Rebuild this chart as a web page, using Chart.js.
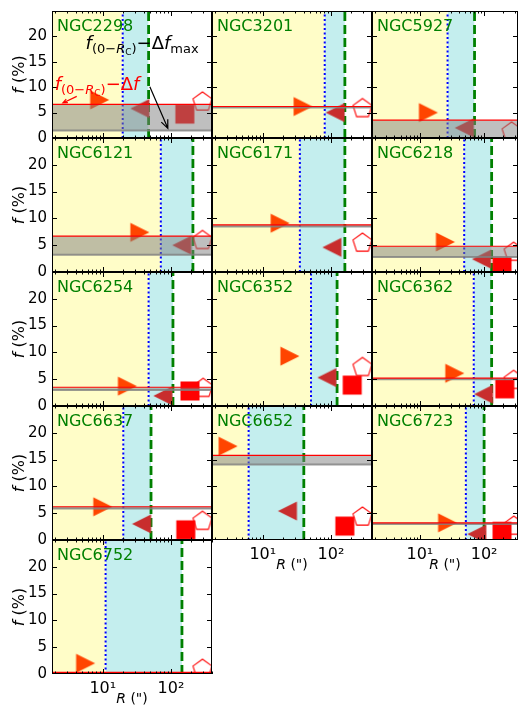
<!DOCTYPE html>
<html>
<head>
<meta charset="utf-8">
<script src="https://cdn.jsdelivr.net/npm/chart.js@4.4.1/dist/chart.umd.min.js"></script>
<style>
html, body { margin: 0; padding: 0; background: #fff; }
#wrap { position: relative; width: 529px; height: 708px; overflow: hidden; }
#wrap canvas { position: absolute; left: 0; top: 0; }
</style>
</head>
<body>
<div id="wrap"></div>
<script>
const galaxies = ['NGC2298', 'NGC3201', 'NGC5927', 'NGC6121', 'NGC6171', 'NGC6218', 'NGC6254',
                  'NGC6352', 'NGC6362', 'NGC6637', 'NGC6652', 'NGC6723', 'NGC6752'];
// end of yellow zone (blue dotted) and of cyan zone (green dashed), arcsec
const rInner = [19.6, 81, 27, 71, 35, 49, 47, 51, 69, 20, 6.2, 52, 11];
const rOuter = [47, 160, 71, 210, 160, 131, 107, 123, 131, 51, 40, 100, 145];
// f(0-Rc) - df (red line) and f(0-Rc) - df_max (grey line), %
const fRed  = [6.6, 6.2, 3.5, 6.7, 8.8, 4.8, 3.5, null, 5.2, 6.2, 15.8, 3.2, 0.3];
const fGrey = [1.5, 6.0, -1, 3.2, 8.5, 2.8, 3.0, null, 5.0, 5.9, 14.1, 3.0, 0.1];
// markers
const rightR = [9, 39, 13.6, 35, 18, 25, 23, 25, 35, 10, 3.1, 27, 5.6];
const rightF = [7.5, 6.2, 5.0, 7.4, 9.1, 5.6, 3.7, 9.3, 6.1, 6.2, 17.5, 3.2, 2.0];
const leftR = [35, 115, 49, 144, 103, 91, 76, 87, 98, 37, 23, 77, null];
const leftF = [5.8, 5.0, 2.0, 5.0, 4.6, 2.4, 1.9, 5.3, 2.2, 3.0, 5.4, 1.1, null];
const squareR = [160, null, null, null, null, 190, 190, 205, 210, 165, 160, 190, null];
const squareF = [4.7, null, null, null, null, 1.0, 2.8, 3.9, 3.2, 1.9, 2.6, 1.6, null];
const pentR = [290, 290, 268, 290, 290, 288, 297, 290, 288, 290, 290, 290, 290];
const pentF = [7.1, 5.8, 1.2, 5.9, 5.4, 3.7, 3.3, 7.2, 4.8, 3.5, 4.3, 2.6, 0.9];

const yTicks = [0, 5, 10, 15, 20];
const xTickLabels = {10: '10\u00b9', 100: '10\u00b2'};

// grid of panels
const colLeft = [52, 212, 372], colWidth = [160, 160, 155];
const rowTop = [4, 138, 272, 406, 540], rowHeight = 134;
const xMin = 1.8, xMax = [400, 400, 337], yMax = 25;

Chart.defaults.font.family = '"DejaVu Sans"';

function marker(draw) {
    const c = document.createElement('canvas');
    c.width = c.height = 26;
    const g = c.getContext('2d');
    g.translate(13, 13);
    draw(g);
    return c;
}
const triRight = marker(g => {
    g.fillStyle = '#ff4500';
    g.beginPath(); g.moveTo(-9.5, -9.5); g.lineTo(9.5, 0); g.lineTo(-9.5, 9.5); g.closePath(); g.fill();
});
const triLeft = marker(g => {
    g.fillStyle = '#c82d2d';
    g.beginPath(); g.moveTo(9.5, -9.5); g.lineTo(-9.5, 0); g.lineTo(9.5, 9.5); g.closePath(); g.fill();
});
const square = marker(g => {
    g.fillStyle = '#ff0000';
    g.fillRect(-9.5, -9.5, 19, 19);
});
const pentagon = marker(g => {
    g.strokeStyle = '#ff0000'; g.lineWidth = 1.1;
    g.beginPath();
    for (let k = 0; k < 5; k++) {
        const a = -Math.PI / 2 + k * 2 * Math.PI / 5;
        k ? g.lineTo(10 * Math.cos(a), 10 * Math.sin(a)) : g.moveTo(10 * Math.cos(a), 10 * Math.sin(a));
    }
    g.closePath(); g.stroke();
});

function fontOf(p) { return (p.it ? 'italic ' : '') + p.s + 'px "DejaVu Sans"'; }
function drawRuns(ctx, parts, x, y, center) {
    let w = 0;
    parts.forEach(p => { ctx.font = fontOf(p); w += ctx.measureText(p.t).width; });
    let cx = center ? x - w / 2 : x;
    parts.forEach(p => {
        ctx.font = fontOf(p);
        ctx.fillText(p.t, cx, y + (p.dy || 0));
        cx += ctx.measureText(p.t).width;
    });
}
function arrow(ctx, x0, y0, x1, y1, head) {
    const a = Math.atan2(y1 - y0, x1 - x0);
    ctx.beginPath();
    ctx.moveTo(x0, y0); ctx.lineTo(x1, y1);
    ctx.moveTo(x1 - head * Math.cos(a - 0.4), y1 - head * Math.sin(a - 0.4));
    ctx.lineTo(x1, y1);
    ctx.lineTo(x1 - head * Math.cos(a + 0.4), y1 - head * Math.sin(a + 0.4));
    ctx.stroke();
}

const fSub = [{t: 'f', it: 1, s: 18}, {t: '(0\u2212', s: 13, dy: 4}, {t: 'R', it: 1, s: 13, dy: 4},
              {t: 'C', s: 9, dy: 6}, {t: ')', s: 13, dy: 4}, {t: '\u2212\u0394', s: 18}, {t: 'f', it: 1, s: 18}];

// notes on the first panel, in data coordinates
const notes = [
    {parts: fSub.concat([{t: 'max', s: 13, dy: 4}]), color: '#000', at: [5.6, 17.6], tail: [49, 10.1], head: [90, 1.9], hl: 9},
    {parts: fSub, color: '#ff0000', at: [1.97, 9.4], tail: [4.15, 8.2], head: [2.6, 6.9], hl: 5}
];

const deco = {
    id: 'deco',
    afterDatasetsDraw(chart, args, o) {
        const {ctx, chartArea: a, scales: {x, y}} = chart;
        ctx.save();
        ctx.strokeStyle = '#000'; ctx.lineWidth = 1;
        ctx.beginPath();
        for (let e = 0; e <= 3; e++) {
            for (let m = 1; m < 10; m++) {
                const v = m * Math.pow(10, e);
                if (v < x.min || v > x.max) continue;
                const px = Math.round(x.getPixelForValue(v)) + 0.5, len = m === 1 ? 5 : 2.5;
                ctx.moveTo(px, a.bottom); ctx.lineTo(px, a.bottom - len);
                ctx.moveTo(px, a.top); ctx.lineTo(px, a.top + len);
            }
        }
        for (let v = 5; v < yMax; v += 5) {
            const py = Math.round(y.getPixelForValue(v)) + 0.5;
            ctx.moveTo(a.left, py); ctx.lineTo(a.left + 5, py);
            ctx.moveTo(a.right, py); ctx.lineTo(a.right - 5, py);
        }
        ctx.stroke();
        ctx.strokeRect(a.left + 0.5, a.top + 0.5, a.right - a.left - 1, a.bottom - a.top - 1);

        ctx.fillStyle = '#008000';
        ctx.font = '16px "DejaVu Sans"';
        ctx.textBaseline = 'alphabetic';
        ctx.fillText(o.name, a.left + 5, a.top + 20);

        ctx.fillStyle = '#000';
        if (o.showY) {
            ctx.save();
            ctx.translate(24, (a.top + a.bottom) / 2);
            ctx.rotate(-Math.PI / 2);
            drawRuns(ctx, [{t: 'f', it: 1, s: 16}, {t: ' (%)', s: 16}], 0, 0, true);
            ctx.restore();
        }
        if (o.showX) {
            drawRuns(ctx, [{t: 'R', it: 1, s: 14}, {t: ' (")', s: 14}], (a.left + a.right) / 2, a.bottom + 29, true);
        }
        (o.notes || []).forEach(n => {
            ctx.fillStyle = n.color; ctx.strokeStyle = n.color; ctx.lineWidth = 1.2;
            drawRuns(ctx, n.parts, x.getPixelForValue(n.at[0]), y.getPixelForValue(n.at[1]), false);
            arrow(ctx, x.getPixelForValue(n.tail[0]), y.getPixelForValue(n.tail[1]),
                  x.getPixelForValue(n.head[0]), y.getPixelForValue(n.head[1]), n.hl);
        });
        ctx.restore();
    }
};

const wrap = document.getElementById('wrap');

function line(pts, color, width, dash, order) {
    return {data: pts, showLine: true, borderColor: color, borderWidth: width, borderDash: dash || [],
            pointRadius: 0, fill: false, order: order, clip: 0};
}
function pts(r, f) { return r == null || f == null ? [] : [{x: r, y: f}]; }

galaxies.forEach((name, i) => {
    const col = i % 3, row = Math.floor(i / 3);
    const left = colLeft[col], top = rowTop[row];
    const right = left + colWidth[col], bottom = top + rowHeight;
    const showY = col === 0, showX = i >= 10;
    const xHi = xMax[col];

    const cv = document.createElement('canvas');
    cv.width = 529; cv.height = 708;
    wrap.appendChild(cv);

    const yellow = line([{x: xMin, y: yMax}, {x: rInner[i], y: yMax}], 'rgba(0,0,0,0)', 0, null, 20);
    yellow.fill = 'origin'; yellow.backgroundColor = 'rgb(255,253,200)';
    const cyan = line([{x: rInner[i], y: yMax}, {x: rOuter[i], y: yMax}], 'rgba(0,0,0,0)', 0, null, 19);
    cyan.fill = 'origin'; cyan.backgroundColor = 'rgb(196,238,238)';

    const hasBand = fRed[i] != null;
    const red = line(hasBand ? [{x: xMin, y: fRed[i]}, {x: xHi, y: fRed[i]}] : [], '#ff0000', 1.2, null, 1);
    const grey = line(hasBand ? [{x: xMin, y: fGrey[i]}, {x: xHi, y: fGrey[i]}] : [], 'rgba(128,128,128,0.8)', 2, null, 2);
    grey.fill = 4; grey.backgroundColor = 'rgba(128,128,128,0.5)';

    const mk = (data, style, order) => ({data: data, pointStyle: style, pointRadius: 10, showLine: false, order: order, clip: 0});

    new Chart(cv, {
        type: 'scatter',
        data: {
            datasets: [
                yellow,
                cyan,
                line([{x: rInner[i], y: 0}, {x: rInner[i], y: yMax}], '#0000ff', 2, [2, 2.5], 18),
                line([{x: rOuter[i], y: 0}, {x: rOuter[i], y: yMax}], '#008000', 2.8, [9, 4], 17),
                red,
                grey,
                mk(pts(rightR[i], rightF[i]), triRight, 6),
                mk(pts(leftR[i], leftF[i]), triLeft, 5),
                mk(pts(squareR[i], squareF[i]), square, 4),
                mk(pts(pentR[i], pentF[i]), pentagon, 3)
            ]
        },
        options: {
            responsive: false,
            devicePixelRatio: 1,
            animation: false,
            events: [],
            layout: {padding: {
                left: showY ? left - 40 : left,
                top: top,
                right: 529 - right,
                bottom: 708 - bottom - (showX ? 30 : 0)
            }},
            scales: {
                x: {
                    type: 'logarithmic', min: xMin, max: xHi, display: showX,
                    afterFit: showX ? s => { s.height = 30; } : undefined,
                    grid: {display: false, drawTicks: false}, border: {display: false},
                    ticks: {autoSkip: false, maxRotation: 0, padding: 5, color: '#000', font: {size: 16},
                            callback: v => xTickLabels[v] || ''}
                },
                y: {
                    type: 'linear', min: 0, max: yMax, display: showY,
                    afterFit: showY ? s => { s.width = 40; } : undefined,
                    grid: {display: false, drawTicks: false}, border: {display: false},
                    ticks: {stepSize: 5, padding: 5, color: '#000', font: {size: 15, lineHeight: 0.4},
                            callback: v => yTicks.includes(v) ? String(v) : ''}
                }
            },
            plugins: {
                legend: {display: false},
                tooltip: {enabled: false},
                filler: {drawTime: 'beforeDatasetDraw'},
                deco: {name: name, showY: showY, showX: showX, notes: i === 0 ? notes : []}
            }
        },
        plugins: [deco]
    });
});
</script>
</body>
</html>
